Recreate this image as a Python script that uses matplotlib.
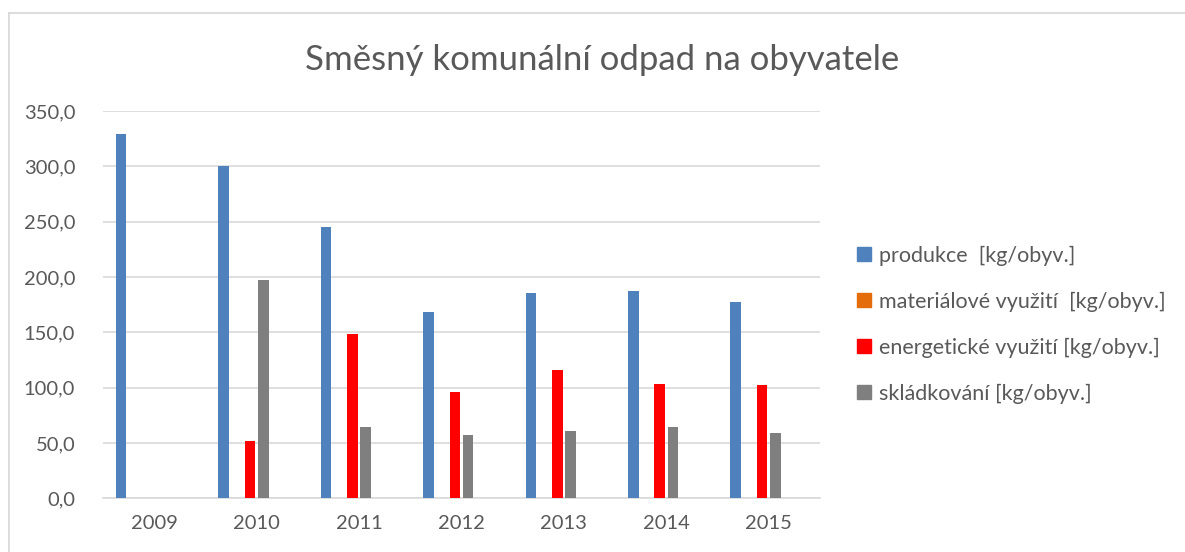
import numpy as np
import matplotlib
matplotlib.use("Agg")
import matplotlib.pyplot as plt
from matplotlib.lines import Line2D

years = ["2009", "2010", "2011", "2012", "2013", "2014", "2015"]
produkce = [329.0, 300.0, 245.5, 168.7, 185.2, 187.7, 177.7]
materialove = [0.0, 0.3, 0.3, 0.3, 0.3, 0.3, 0.3]
energeticke = [0.0, 52.1, 148.8, 96.4, 116.3, 103.6, 102.7]
skladkovani = [0.0, 197.6, 64.8, 57.5, 61.1, 64.8, 59.3]

labels = [
    "produkce  [kg/obyv.]",
    "materiálové využití  [kg/obyv.]",
    "energetické využití [kg/obyv.]",
    "skládkování [kg/obyv.]",
]
colors = ["#4f81bd", "#e46c0a", "#ff0000", "#7f7f7f"]
series = [produkce, materialove, energeticke, skladkovani]

plt.rcParams["font.family"] = ["Lato", "DejaVu Sans"]
text_color = "#595959"
grid_color = "#d9d9d9"

fig = plt.figure(figsize=(11.85, 5.52), dpi=100)
ax = fig.add_axes([0.0869, 0.0973, 0.6051, 0.7016])

x = np.arange(len(years))
slot = 0.129   # six slots per category in the original workbook, four are used
width = 0.103
for i, (vals, col, lab) in enumerate(zip(series, colors, labels)):
    offs = -3 * slot + (i + 0.5) * slot
    ax.bar(x + offs, vals, width=width, color=col, label=lab, zorder=3)

ax.set_xlim(-0.5, len(years) - 0.5)
ax.set_ylim(0, 350)
ax.set_yticks(np.arange(0, 351, 50))
ax.set_yticklabels([f"{v:.1f}".replace(".", ",") for v in np.arange(0, 351, 50)])
ax.set_xticks(x)
ax.set_xticklabels(years)
ax.tick_params(axis="both", length=0, labelsize=14.5, colors=text_color)
ax.tick_params(axis="y", pad=20)
ax.tick_params(axis="x", pad=12)
ax.yaxis.grid(True, color=grid_color, linewidth=1.2, zorder=0)
for s in ["top", "right", "left"]:
    ax.spines[s].set_visible(False)
ax.spines["bottom"].set_color(grid_color)
ax.spines["bottom"].set_linewidth(1.2)

fig.text(602 / 1185, 1 - 60 / 552, "Směsný komunální odpad na obyvatele",
         ha="center", va="center", fontsize=25, color=text_color)

handles = [plt.Rectangle((0, 0), 1, 1, color=c) for c in colors]
leg = fig.legend(handles, labels, loc="upper left",
                 bbox_to_anchor=(848 / 1185, 1 - 237 / 552),
                 frameon=False, fontsize=15.5, labelcolor=text_color,
                 handlelength=0.65, handleheight=0.65, handletextpad=0.4,
                 labelspacing=1.2, borderaxespad=0)

# chart area border (top and left edges visible)
fig.add_artist(Line2D([8.5 / 1185, 1], [1 - 12.5 / 552] * 2,
                      color=grid_color, linewidth=1.3, transform=fig.transFigure))
fig.add_artist(Line2D([8.5 / 1185] * 2, [0, 1 - 12.5 / 552],
                      color=grid_color, linewidth=1.3, transform=fig.transFigure))

fig.savefig("out.png", dpi=100)
